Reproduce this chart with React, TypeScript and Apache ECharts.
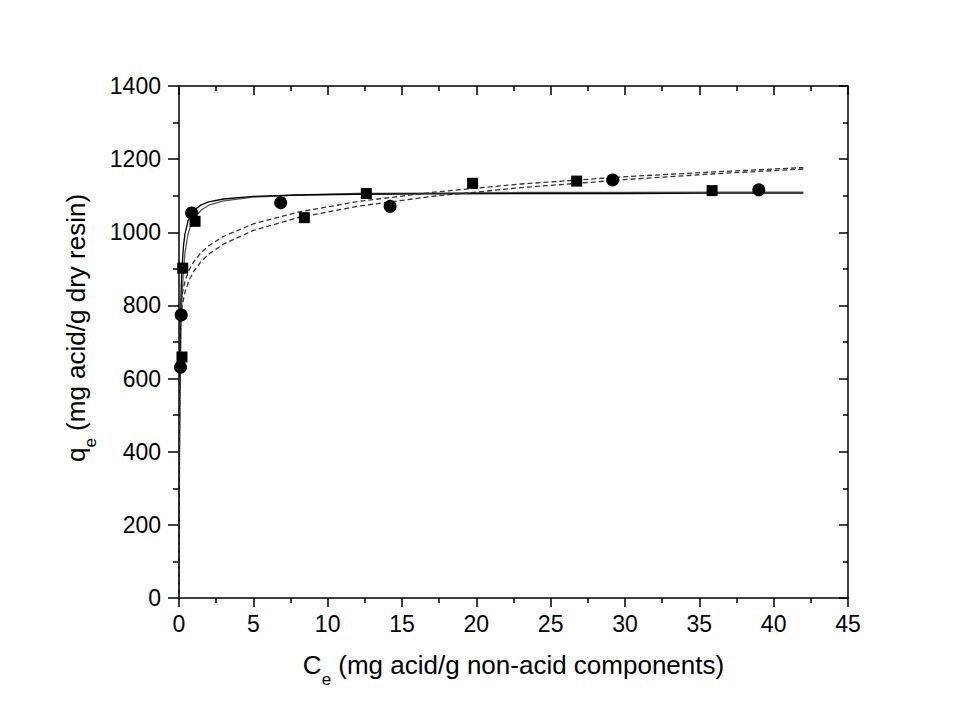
import React, { useEffect, useRef } from "react";
import * as echarts from "echarts";

// Experimental points
const squareC = [0.2, 0.25, 1.08, 8.43, 12.6, 19.75, 26.75, 35.86];
const squareQ = [659, 902, 1030, 1040, 1106, 1134, 1140, 1114];
const circleC = [0.1, 0.15, 0.85, 6.84, 14.2, 29.17, 39.0];
const circleQ = [631, 774, 1053, 1081, 1071, 1143, 1116];

// Fitted curves
const langC = [0, 0.005, 0.01, 0.02, 0.04, 0.06, 0.1, 0.15, 0.2, 0.3, 0.4, 0.6, 0.8, 1, 1.5, 2, 3, 5, 8, 12, 17, 23, 30, 36, 42];
const langA = [0, 110, 200, 339, 519, 630, 762, 850, 903, 962, 995, 1030, 1048, 1060, 1075, 1083, 1091, 1098, 1102, 1104, 1105, 1106, 1106, 1107, 1107];
const langB = [0, 73, 137, 243, 399, 508, 649, 753, 819, 898, 943, 994, 1021, 1038, 1061, 1074, 1086, 1096, 1102, 1106, 1107, 1109, 1109, 1110, 1110];
const freuC = [0, 0.04, 0.1, 0.2, 0.4, 0.7, 1, 1.5, 2, 3, 5, 8, 12, 17, 23, 30, 36, 42];
const freuA = [0, 744, 790, 827, 866, 899, 920, 945, 963, 989, 1023, 1055, 1084, 1109, 1132, 1152, 1165, 1177];
const freuB = [0, 708, 756, 795, 837, 871, 894, 921, 940, 968, 1005, 1040, 1071, 1098, 1122, 1144, 1160, 1173];

const xTitle = "{m|C}{s|e}{m| (mg acid/g non-acid components)}";
const yTitle = "{m|q}{s|e}{m| (mg acid/g dry resin)}";

const zip = (xs: number[], ys: number[]) => xs.map((x, i) => [x, ys[i]]);

const FONT = "'Liberation Sans', Arial, sans-serif";

export default function App() {
  const ref = useRef<HTMLDivElement>(null);
  useEffect(() => {
    if (!ref.current) return;
    const chart = echarts.init(ref.current, undefined, { renderer: "svg" });
    const rich = {
      m: { fontSize: 26, fontFamily: FONT, color: "#000", lineHeight: 30, verticalAlign: "middle" as const },
      s: { fontSize: 17, fontFamily: FONT, color: "#000", lineHeight: 46, verticalAlign: "bottom" as const },
    };
    const axisLine = { show: true, onZero: false, lineStyle: { color: "#000", width: 1.5 } };
    const labelFmt = (v: number) => String(v);
    chart.setOption({
      animation: false,
      backgroundColor: "#fff",
      grid: { left: 179, top: 86, width: 669, height: 512, containLabel: false },
      xAxis: [
        {
          type: "value", position: "bottom", min: 0, max: 45, interval: 5,
          axisLine,
          axisTick: { show: true, inside: false, length: 9, lineStyle: { color: "#000", width: 1.5 } },
          minorTick: { show: true, splitNumber: 2, length: 5, lineStyle: { color: "#000", width: 1.5 } },
          splitLine: { show: false },
          axisLabel: { fontSize: 23, fontFamily: FONT, color: "#000", margin: 14, formatter: labelFmt },
          name: xTitle, nameLocation: "middle", nameGap: 44,
          nameTextStyle: { rich },
        },
        {
          type: "value", position: "top", min: 0, max: 45, interval: 5,
          axisLine,
          axisTick: { show: true, inside: true, length: 9, lineStyle: { color: "#000", width: 1.5 } },
          minorTick: { show: true, splitNumber: 2, length: 5, lineStyle: { color: "#000", width: 1.5 } },
          splitLine: { show: false },
          axisLabel: { show: false },
        },
      ],
      yAxis: [
        {
          type: "value", position: "left", min: 0, max: 1400, interval: 200,
          axisLine,
          axisTick: { show: true, inside: false, length: 11, lineStyle: { color: "#000", width: 1.5 } },
          minorTick: { show: true, splitNumber: 2, length: 6, lineStyle: { color: "#000", width: 1.5 } },
          splitLine: { show: false },
          axisLabel: { fontSize: 23, fontFamily: FONT, color: "#000", margin: 18, formatter: labelFmt },
          name: yTitle, nameLocation: "middle", nameGap: 50, nameRotate: 90,
          nameTextStyle: { rich, padding: [0, 0, 0, 28] },
        },
        {
          type: "value", position: "right", min: 0, max: 1400, interval: 200,
          axisLine,
          axisTick: { show: true, inside: true, length: 9, lineStyle: { color: "#000", width: 1.5 } },
          minorTick: { show: true, splitNumber: 2, length: 5, lineStyle: { color: "#000", width: 1.5 } },
          splitLine: { show: false },
          axisLabel: { show: false },
        },
      ],
      series: [
        {
          type: "line", name: "Langmuir B", data: zip(langC, langB), showSymbol: false, symbol: "none",
          lineStyle: { color: "#555", width: 1.3 }, smooth: false, z: 2,
        },
        {
          type: "line", name: "Langmuir A", data: zip(langC, langA), showSymbol: false, symbol: "none",
          lineStyle: { color: "#000", width: 1.3 }, smooth: false, z: 2,
        },
        {
          type: "line", name: "Freundlich A", data: zip(freuC, freuA), showSymbol: false, symbol: "none",
          lineStyle: { color: "#333", width: 1.3, type: [5, 3] }, smooth: false, z: 2,
        },
        {
          type: "line", name: "Freundlich B", data: zip(freuC, freuB), showSymbol: false, symbol: "none",
          lineStyle: { color: "#333", width: 1.3, type: [5, 3] }, smooth: false, z: 2,
        },
        {
          type: "scatter", name: "squares", data: zip(squareC, squareQ), symbol: "rect", symbolSize: 11,
          itemStyle: { color: "#000", opacity: 1 }, z: 5,
        },
        {
          type: "scatter", name: "circles", data: zip(circleC, circleQ), symbol: "circle", symbolSize: 13,
          itemStyle: { color: "#000", opacity: 1 }, z: 5,
        },
      ],
    });
    return () => chart.dispose();
  }, []);
  return (
    <div
      ref={ref}
      style={{ position: "fixed", left: 0, top: 0, width: 977, height: 709, background: "#fff" }}
    />
  );
}
